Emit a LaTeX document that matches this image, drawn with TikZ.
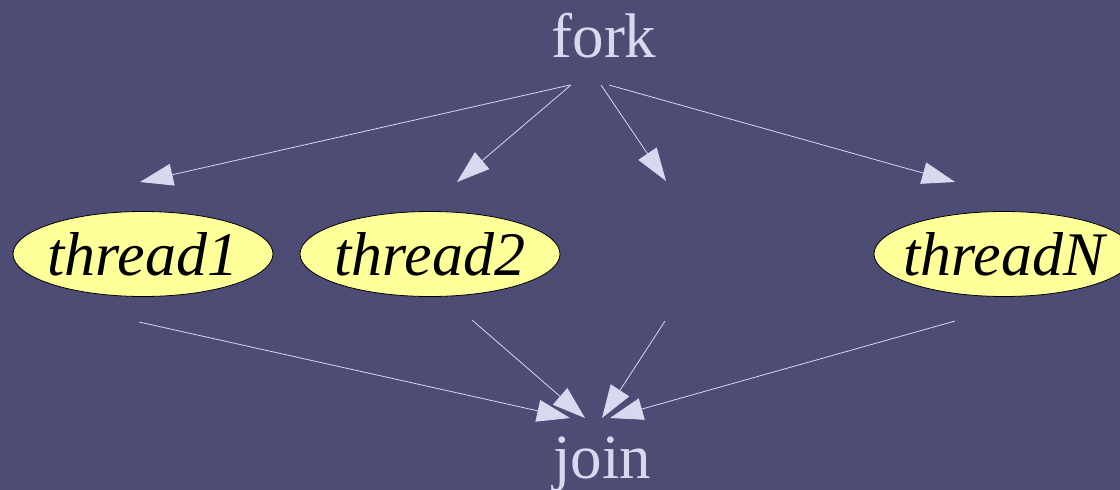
\documentclass[tikz,border=0pt]{standalone}
\usepackage{fontspec}
\setmainfont{Liberation Serif}
\usetikzlibrary{arrows.meta,shapes.geometric}
\definecolor{bgc}{HTML}{4C4C75}
\definecolor{lnc}{HTML}{D8D8EE}
\definecolor{ylc}{HTML}{FFFF99}
\newcommand{\zw}[1]{\makebox[0pt]{#1}}
\begin{document}
\begin{tikzpicture}[x=1pt,y=-1pt,
  lbl/.style={text=lnc,font=\fontsize{63}{75}\selectfont,anchor=base,inner sep=0pt},
  thr/.style={ellipse,draw=black,line width=0.8pt,fill=ylc,minimum width=260pt,minimum height=85pt,inner sep=0pt,font=\fontsize{62}{74}\selectfont\itshape},
  edge/.style={draw=lnc,line width=0.8pt,-{Triangle[length=33pt,width=22pt]}}]
\useasboundingbox (0,0) rectangle (1120,490);
\fill[bgc] (0,0) rectangle (1120,490);
\clip (0,0) rectangle (1120,490);
\node[lbl] (fork) at (604,57) {fork};
\node[lbl] (join) at (602,478) {join};
\node[thr] (t1) at (143,254) {\zw{thread1}};
\node[thr] (t2) at (430,254) {\zw{thread2}};
\node[thr] (tN) at (1004,254) {\zw{threadN}};
% fork side points
\coordinate (s1) at (570,85);
\coordinate (s2) at (571,85);
\coordinate (s3) at (601,85);
\coordinate (s4) at (609,85);
\coordinate (e1) at (140,182);
\coordinate (e2) at (457,182);
\coordinate (e3) at (666,181);
\coordinate (e4) at (955,182);
% join side points
\coordinate (b1) at (139,322);
\coordinate (b2) at (472,320);
\coordinate (b3) at (665,321);
\coordinate (b4) at (955,321);
\coordinate (j1) at (570,418);
\coordinate (j2) at (585,418);
\coordinate (j3) at (602,418);
\coordinate (j4) at (610,418);
\draw[edge] (s1) -- (e1);
\draw[edge] (s2) -- (e2);
\draw[edge] (s3) -- (e3);
\draw[edge] (s4) -- (e4);
\draw[edge] (b1) -- (j1);
\draw[edge] (b2) -- (j2);
\draw[edge] (b3) -- (j3);
\draw[edge] (b4) -- (j4);
\end{tikzpicture}
\end{document}
